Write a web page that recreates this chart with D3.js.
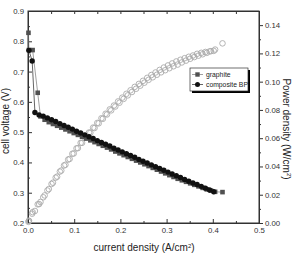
<!DOCTYPE html>
<html>
<head>
<meta charset="utf-8">
<script src="https://cdn.jsdelivr.net/npm/d3@7"></script>
<style>
  body { margin: 0; background: #fff; }
  svg { display: block; }
  .ticks text { font-family: "Liberation Sans Narrow", "Liberation Sans", Arial, sans-serif; font-size: 7.8px; fill: #333; }
  .ticks path, .ticks line { stroke: #333; }
  .title { font-family: "Liberation Sans", Arial, sans-serif; font-size: 10px; fill: #222; }
</style>
</head>
<body>
<div id="graph1"></div>
<script>
// composite BP: current density (A/cm2), cell voltage (V), power density (W/cm2)
const compI = [0.002, 0.009, 0.015, 0.024, 0.033, 0.042, 0.051, 0.060, 0.069, 0.078, 0.087, 0.096, 0.105, 0.114, 0.123, 0.132, 0.141, 0.150, 0.159, 0.168, 0.177, 0.186, 0.195, 0.204, 0.213, 0.222, 0.231, 0.240, 0.249, 0.258, 0.267, 0.276, 0.285, 0.294, 0.303, 0.312, 0.321, 0.330, 0.339, 0.348, 0.357, 0.366, 0.375, 0.384, 0.393, 0.402];
const compV = [0.770, 0.735, 0.565, 0.557, 0.553, 0.547, 0.541, 0.535, 0.528, 0.522, 0.516, 0.510, 0.503, 0.497, 0.491, 0.485, 0.479, 0.472, 0.466, 0.460, 0.454, 0.447, 0.441, 0.435, 0.429, 0.423, 0.417, 0.410, 0.404, 0.398, 0.392, 0.386, 0.380, 0.374, 0.368, 0.362, 0.356, 0.350, 0.344, 0.338, 0.332, 0.327, 0.321, 0.315, 0.309, 0.303];
const compP = [0.0015, 0.0066, 0.0085, 0.0134, 0.0182, 0.0230, 0.0276, 0.0321, 0.0364, 0.0407, 0.0449, 0.0490, 0.0528, 0.0567, 0.0604, 0.0640, 0.0675, 0.0708, 0.0741, 0.0773, 0.0804, 0.0831, 0.0860, 0.0887, 0.0914, 0.0939, 0.0963, 0.0984, 0.1006, 0.1027, 0.1047, 0.1065, 0.1083, 0.1100, 0.1115, 0.1129, 0.1143, 0.1155, 0.1166, 0.1176, 0.1185, 0.1197, 0.1204, 0.1210, 0.1214, 0.1218];

// graphite
const graphI = [0.001, 0.002, 0.010, 0.021, 0.027, 0.036, 0.045, 0.054, 0.063, 0.072, 0.081, 0.090, 0.099, 0.108, 0.117, 0.126, 0.135, 0.144, 0.153, 0.162, 0.171, 0.180, 0.189, 0.198, 0.207, 0.216, 0.225, 0.234, 0.243, 0.252, 0.261, 0.270, 0.279, 0.288, 0.297, 0.306, 0.315, 0.324, 0.333, 0.342, 0.351, 0.360, 0.369, 0.378, 0.387, 0.396, 0.405, 0.421];
const graphV = [0.828, 0.771, 0.771, 0.630, 0.552, 0.541, 0.533, 0.527, 0.521, 0.515, 0.509, 0.503, 0.497, 0.491, 0.485, 0.479, 0.473, 0.467, 0.461, 0.455, 0.449, 0.443, 0.436, 0.430, 0.424, 0.418, 0.412, 0.406, 0.400, 0.394, 0.388, 0.382, 0.376, 0.370, 0.364, 0.358, 0.352, 0.346, 0.341, 0.336, 0.331, 0.326, 0.321, 0.316, 0.311, 0.307, 0.303, 0.302];
const graphP = [0.0008, 0.0015, 0.0077, 0.0132, 0.0149, 0.0195, 0.0240, 0.0285, 0.0328, 0.0371, 0.0412, 0.0453, 0.0492, 0.0530, 0.0567, 0.0604, 0.0639, 0.0672, 0.0705, 0.0737, 0.0768, 0.0797, 0.0824, 0.0851, 0.0878, 0.0903, 0.0927, 0.0950, 0.0972, 0.0993, 0.1013, 0.1031, 0.1049, 0.1066, 0.1081, 0.1095, 0.1109, 0.1121, 0.1136, 0.1149, 0.1162, 0.1174, 0.1184, 0.1194, 0.1204, 0.1216, 0.1227, 0.1271];

const xTicks = [0.0, 0.1, 0.2, 0.3, 0.4, 0.5];
const xMinor = [0.05, 0.15, 0.25, 0.35, 0.45];
const vTicks = [0.2, 0.3, 0.4, 0.5, 0.6, 0.7, 0.8, 0.9];
const vMinor = [0.25, 0.35, 0.45, 0.55, 0.65, 0.75, 0.85];
const pTicks = [0.00, 0.02, 0.04, 0.06, 0.08, 0.10, 0.12, 0.14];
const pMinor = [0.01, 0.03, 0.05, 0.07, 0.09, 0.11, 0.13];
const seriesNames = ["graphite", "composite BP"];

let width = 293;
let height = 255;
let plotL = 28, plotR = 259, plotT = 11, plotB = 223;

let svg = d3.select("#graph1").append("svg")
  .attr("width", width)
  .attr("height", height);

let x = d3.scaleLinear().domain([0, 0.5]).range([plotL, plotR]);
let yV = d3.scaleLinear().domain([0.2, 0.9]).range([plotB, plotT]);
let yP = d3.scaleLinear().domain([0, 0.15]).range([plotB, plotT]);

// axes
svg.append("g").attr("class", "ticks")
  .attr("transform", `translate(0, ${plotB})`)
  .call(d3.axisBottom(x).tickValues(xTicks).tickFormat(d3.format(".1f")).tickSize(-4).tickSizeOuter(0).tickPadding(4));
svg.append("g").attr("class", "ticks")
  .attr("transform", `translate(0, ${plotB})`)
  .call(d3.axisBottom(x).tickValues(xMinor).tickFormat("").tickSize(-2).tickSizeOuter(0));
svg.append("g").attr("class", "ticks")
  .attr("transform", `translate(0, ${plotT})`)
  .call(d3.axisTop(x).tickValues(xTicks.concat(xMinor)).tickFormat("").tickSize(-3).tickSizeOuter(0));

svg.append("g").attr("class", "ticks")
  .attr("transform", `translate(${plotL}, 0)`)
  .call(d3.axisLeft(yV).tickValues(vTicks).tickFormat(d3.format(".1f")).tickSize(-4).tickSizeOuter(0).tickPadding(4));
svg.append("g").attr("class", "ticks")
  .attr("transform", `translate(${plotL}, 0)`)
  .call(d3.axisLeft(yV).tickValues(vMinor).tickFormat("").tickSize(-2).tickSizeOuter(0));

svg.append("g").attr("class", "ticks")
  .attr("transform", `translate(${plotR}, 0)`)
  .call(d3.axisRight(yP).tickValues(pTicks).tickFormat(d3.format(".2f")).tickSize(4).tickSizeOuter(0).tickPadding(2));
svg.append("g").attr("class", "ticks")
  .attr("transform", `translate(${plotR}, 0)`)
  .call(d3.axisRight(yP).tickValues(pMinor).tickFormat("").tickSize(2).tickSizeOuter(0));

// frame
svg.append("rect")
  .attr("x", plotL).attr("y", plotT)
  .attr("width", plotR - plotL).attr("height", plotB - plotT)
  .attr("fill", "none").attr("stroke", "#333");

// power density (open markers)
let pSeries = [
  { i: graphI, p: graphP },
  { i: compI, p: compP }
];
pSeries.forEach(function (s) {
  svg.append("g").selectAll("circle")
    .data(s.i)
    .enter()
    .append("circle")
    .attr("cx", function (d) { return x(d); })
    .attr("cy", function (d, k) { return yP(s.p[k]); })
    .attr("r", 2.8)
    .attr("fill", "none")
    .attr("stroke", "#ababab")
    .attr("stroke-width", 0.9);
});

// cell voltage
let line = d3.line()
  .x(function (d) { return x(d[0]); })
  .y(function (d) { return yV(d[1]); });

let graphPts = graphI.map(function (d, k) { return [d, graphV[k]]; });
let compPts = compI.map(function (d, k) { return [d, compV[k]]; });

svg.append("path").datum(graphPts)
  .attr("d", line).attr("fill", "none").attr("stroke", "#777").attr("stroke-width", 0.7);
svg.append("g").selectAll("rect")
  .data(graphPts)
  .enter()
  .append("rect")
  .attr("x", function (d) { return x(d[0]) - 2.3; })
  .attr("y", function (d) { return yV(d[1]) - 2.3; })
  .attr("width", 4.6).attr("height", 4.6)
  .attr("fill", "#505050");

svg.append("path").datum(compPts)
  .attr("d", line).attr("fill", "none").attr("stroke", "#222").attr("stroke-width", 0.7);
svg.append("g").selectAll("circle")
  .data(compPts)
  .enter()
  .append("circle")
  .attr("cx", function (d) { return x(d[0]); })
  .attr("cy", function (d) { return yV(d[1]); })
  .attr("r", 2.7)
  .attr("fill", "#111");

// legend
let lg = svg.append("g").attr("transform", "translate(190, 68)");
lg.append("rect").attr("x", 2).attr("y", 2).attr("width", 58).attr("height", 23).attr("fill", "#000");
lg.append("rect").attr("x", 0).attr("y", 0).attr("width", 58).attr("height", 23)
  .attr("fill", "#fff").attr("stroke", "#333").attr("stroke-width", 0.7);
seriesNames.forEach(function (name, k) {
  let yy = 6.5 + k * 10;
  lg.append("line").attr("x1", 2).attr("x2", 13).attr("y1", yy).attr("y2", yy)
    .attr("stroke", k ? "#222" : "#777").attr("stroke-width", 0.7);
  if (k) {
    lg.append("circle").attr("cx", 7.5).attr("cy", yy).attr("r", 2.5).attr("fill", "#111");
  } else {
    lg.append("rect").attr("x", 5.3).attr("y", yy - 2.2).attr("width", 4.4).attr("height", 4.4).attr("fill", "#505050");
  }
  lg.append("text").attr("x", 16).attr("y", yy + 2.3)
    .style("font-family", "'Liberation Sans Narrow', 'Liberation Sans', Arial, sans-serif")
    .style("font-size", "6.8px").style("fill", "#222")
    .text(name);
});

// axis titles
svg.append("text").attr("class", "title")
  .attr("transform", `translate(9, ${(plotT + plotB) / 2 + 4}) rotate(-90)`)
  .attr("text-anchor", "middle")
  .text("cell voltage (V)");

let xt = svg.append("text").attr("class", "title")
  .attr("x", 144).attr("y", 251)
  .attr("text-anchor", "middle");
xt.append("tspan").text("current density (A/cm");
xt.append("tspan").attr("dy", -3.5).style("font-size", "6px").text("2");
xt.append("tspan").attr("dy", 3.5).text(")");

let pt = svg.append("text").attr("class", "title")
  .attr("transform", `translate(283, ${(plotT + plotB) / 2 + 12}) rotate(90)`)
  .attr("text-anchor", "middle");
pt.append("tspan").text("Power density (W/cm");
pt.append("tspan").attr("dy", -3.5).style("font-size", "6px").text("2");
pt.append("tspan").attr("dy", 3.5).text(")");
</script>
</body>
</html>
